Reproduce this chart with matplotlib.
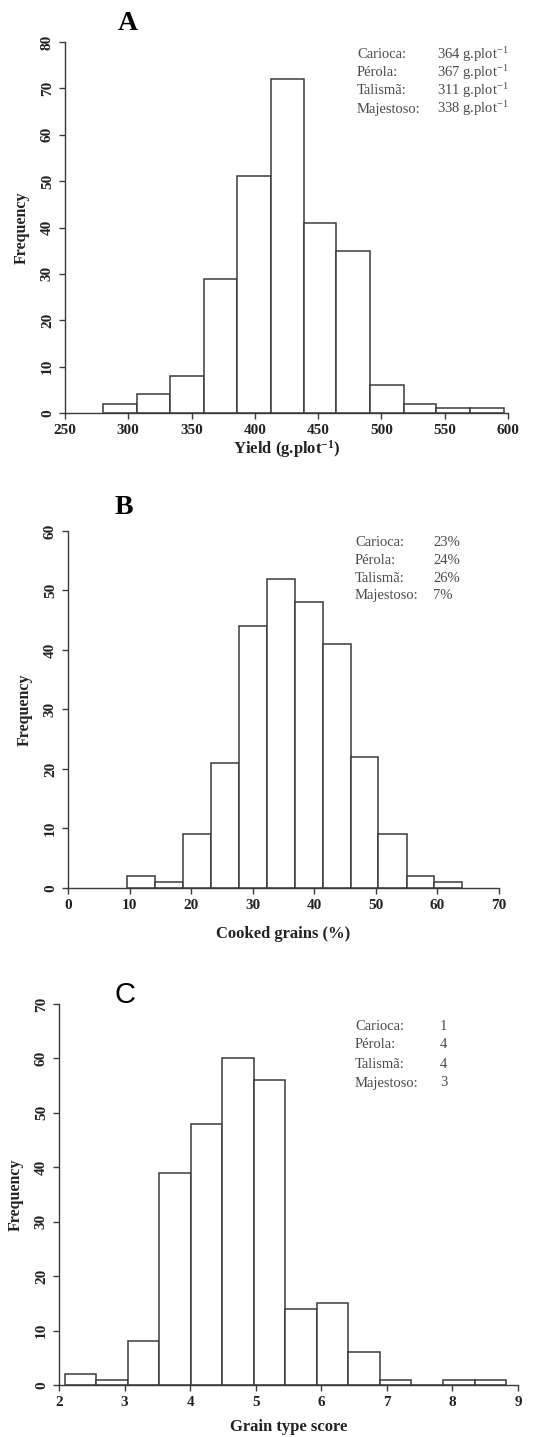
import numpy as np
import matplotlib
matplotlib.use("Agg")
from matplotlib import pyplot as plt

plt.rcParams['font.family'] = ['Liberation Serif', 'DejaVu Serif']
plt.rcParams['mathtext.fontset'] = 'custom'
plt.rcParams['mathtext.rm'] = 'Liberation Serif'
plt.rcParams['mathtext.bf'] = 'Liberation Serif:bold'
plt.rcParams['mathtext.it'] = 'Liberation Serif'

# panel A - yield
yield_edges = [280, 306.5, 333, 359.5, 386, 412.5, 438.5, 464.5, 491, 517.5, 543.5, 570, 596.5]
yield_counts = [2, 4, 8, 29, 51, 72, 41, 35, 6, 2, 1, 1]
yield_xticks = [250, 300, 350, 400, 450, 500, 550, 600]
yield_yticks = [0, 10, 20, 30, 40, 50, 60, 70, 80]
yield_checks = ["364 g.plot$^{-1}$", "367 g.plot$^{-1}$", "311 g.plot$^{-1}$", "338 g.plot$^{-1}$"]

# panel B - cooked grains
cooked_edges = [9.6, 14.2, 18.7, 23.2, 27.8, 32.3, 36.9, 41.4, 45.9, 50.4, 55.0, 59.5, 64.0]
cooked_counts = [2, 1, 9, 21, 44, 52, 48, 41, 22, 9, 2, 1]
cooked_xticks = [0, 10, 20, 30, 40, 50, 60, 70]
cooked_yticks = [0, 10, 20, 30, 40, 50, 60]
cooked_checks = ["23%", "24%", "26%", "7%"]

# panel C - grain type score
grain_edges = [2.09, 2.57, 3.05, 3.53, 4.01, 4.49, 4.97, 5.45, 5.93, 6.41, 6.89, 7.37, 7.86, 8.34, 8.82]
grain_counts = [2, 1, 8, 39, 48, 60, 56, 14, 15, 6, 1, 0, 1, 1]
grain_xticks = [2, 3, 4, 5, 6, 7, 8, 9]
grain_yticks = [0, 10, 20, 30, 40, 50, 60, 70]
grain_checks = ["1", "4", "4", "3"]

cultivars = ["Carioca:", "Pérola:", "Talismã:", "Majestoso:"]

W, H = 534, 1437
EDGE = '#3a3a3a'
TXT = '#4a4a4a'

fig = plt.figure(figsize=(W / 100, H / 100), dpi=100)


def px_axes(left, right, top, bottom):
    return fig.add_axes([left / W, 1 - bottom / H, (right - left) / W, (bottom - top) / H])


def draw_hist(ax, edges, counts, xticks, yticks, xlabel, labelpad):
    edges = np.array(edges)
    ax.bar(edges[:-1], counts, width=np.diff(edges), align='edge',
           color='white', edgecolor=EDGE, linewidth=1.1, clip_on=False)
    ax.set_xlim(xticks[0], xticks[-1])
    ax.set_ylim(yticks[0], yticks[-1])
    ax.set_xticks(xticks)
    ax.set_yticks(yticks)
    for s in ['top', 'right']:
        ax.spines[s].set_visible(False)
    for s in ['left', 'bottom']:
        ax.spines[s].set_color(EDGE)
        ax.spines[s].set_linewidth(1.0)
    ax.tick_params(direction='out', length=4.5, width=1.0, color=EDGE,
                   labelsize=11, labelcolor='#222222')
    for lab in ax.get_xticklabels():
        lab.set_fontweight('bold')
    for lab in ax.get_yticklabels():
        lab.set_fontweight('bold')
        lab.set_rotation(90)
        lab.set_va('center')
    ax.set_xlabel(xlabel, fontsize=12, fontweight='bold', color='#222222', labelpad=labelpad)
    ax.set_ylabel('Frequency', fontsize=11.5, fontweight='bold', color='#222222', labelpad=8)


def draw_checks(x_name, x_val, y0, step, values):
    for i, (name, val) in enumerate(zip(cultivars, values)):
        y = y0 + i * step
        fig.text(x_name / W, 1 - y / H, name, fontsize=10.5, color=TXT, va='center')
        fig.text(x_val / W, 1 - y / H, val, fontsize=10.5, color=TXT, va='center')


axA = px_axes(65, 508, 42, 413)
draw_hist(axA, yield_edges, yield_counts, yield_xticks, yield_yticks,
          r'Yield (g.plot$^{\mathbf{-1}}$)', 1)
draw_checks(357, 437, 55, 18, yield_checks)
fig.text(128 / W, 1 - 24 / H, 'A', fontsize=20, fontweight='bold', ha='center', va='center')

axB = px_axes(68, 499, 531, 888)
draw_hist(axB, cooked_edges, cooked_counts, cooked_xticks, cooked_yticks,
          'Cooked grains (%)', 10)
draw_checks(355, 433, 543, 17.5, cooked_checks)
fig.text(124 / W, 1 - 508 / H, 'B', fontsize=20, fontweight='bold', ha='center', va='center')

axC = px_axes(59, 518, 1004, 1385)
draw_hist(axC, grain_edges, grain_counts, grain_xticks, grain_yticks,
          'Grain type score', 7)
draw_checks(355, 440, 1026, 19, grain_checks)
fig.text(125 / W, 1 - 995 / H, 'C', fontsize=21, family='Liberation Sans', ha='center', va='center')

fig.savefig('out.png', dpi=100, facecolor='white')
